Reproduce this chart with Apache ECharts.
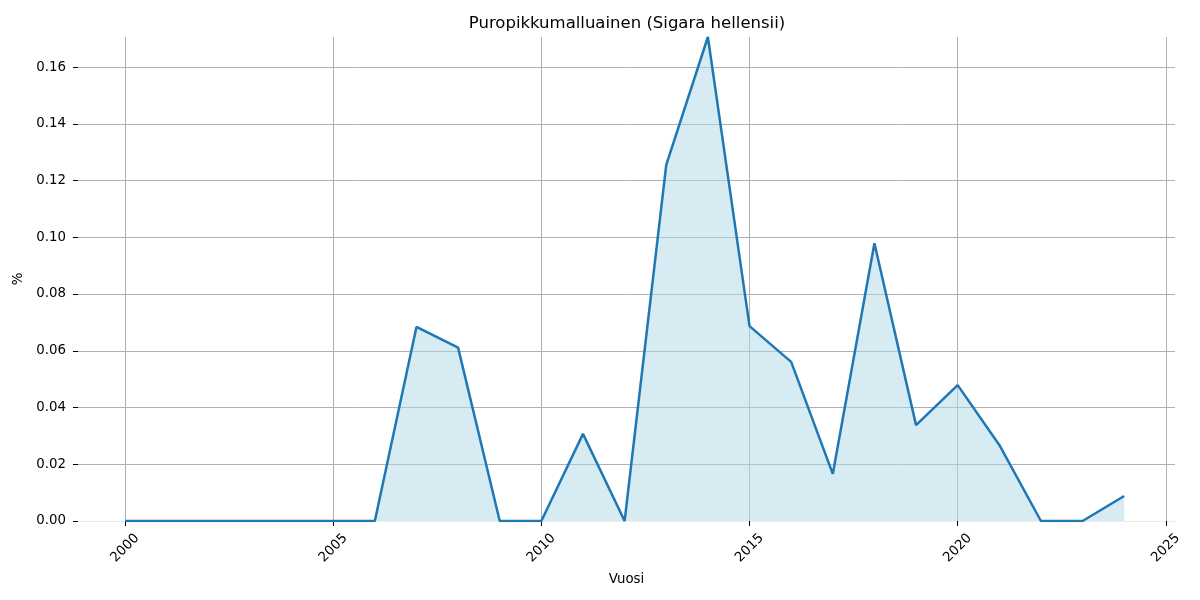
<!DOCTYPE html>
<html>
<head>
<meta charset="utf-8">
<script src="https://cdn.jsdelivr.net/npm/echarts@6/dist/echarts.min.js"></script>
<style>html,body{margin:0;padding:0;background:#fff}#c{width:1200px;height:600px}</style>
</head>
<body>
<div id="c"></div>
<script>
const years = [2000,2001,2002,2003,2004,2005,2006,2007,2008,2009,2010,2011,2012,2013,2014,2015,2016,2017,2018,2019,2020,2021,2022,2023,2024];
const values = [0,0,0,0,0,0,0,0.0684,0.0611,0,0,0.0307,0,0.1255,0.1706,0.0687,0.0561,0.0166,0.0979,0.0338,0.0479,0.0268,0,0,0.0088];
const xTicks = [2000,2005,2010,2015,2020,2025];
const yTicks = [0,0.02,0.04,0.06,0.08,0.10,0.12,0.14,0.16];
const titleText = 'Puropikkumalluainen (Sigara hellensii)';
const xName = 'Vuosi';
const yName = '%';

const font = '"DejaVu Sans", sans-serif';
const chart = echarts.init(document.getElementById('c'));
chart.setOption({
  animation: false,
  title: {text: titleText, left: 622, top: 10, textAlign: 'center',
    textStyle: {fontFamily: font, fontSize: 16.5, fontWeight: 'normal', color: '#000'}},
  grid: {left: 78, right: 25, top: 37, bottom: 79, containLabel: false},
  xAxis: {
    type: 'value', min: 1998.87, max: 2025.22,
    name: xName, nameLocation: 'middle', nameGap: 52,
    nameTextStyle: {fontFamily: font, fontSize: 13.33, color: '#000'},
    axisLine: {show: false},
    axisTick: {show: true, customValues: xTicks, length: 5, lineStyle: {color: '#000', width: 1}},
    axisLabel: {customValues: xTicks, rotate: 45, align: 'center', verticalAlign: 'middle',
      fontFamily: font, fontSize: 13.33, color: '#000', margin: 27,
      formatter: v => String(v)},
    splitLine: {show: true, lineStyle: {color: '#b0b0b0', width: 1}}
  },
  yAxis: {
    type: 'value', min: 0, max: 0.1706,
    name: yName, nameLocation: 'middle', nameGap: 48,
    nameTextStyle: {fontFamily: font, fontSize: 13.33, color: '#000'},
    axisLine: {show: false},
    axisTick: {show: true, customValues: yTicks, length: 5, lineStyle: {color: '#000', width: 1}},
    axisLabel: {customValues: yTicks, fontFamily: font, fontSize: 13.33, color: '#000', margin: 12,
      formatter: v => v.toFixed(2)},
    splitLine: {show: true, lineStyle: {color: ['#ececec','#b0b0b0','#b0b0b0','#b0b0b0','#b0b0b0','#b0b0b0','#b0b0b0','#b0b0b0','#b0b0b0'], width: 1}}
  },
  series: [{
    type: 'line',
    data: years.map((y, i) => [y, values[i]]),
    showSymbol: false,
    lineStyle: {color: '#1f77b4', width: 2.5},
    itemStyle: {color: '#1f77b4'},
    areaStyle: {color: 'rgba(173,216,230,0.5)', opacity: 1, origin: 'start'},
    z: 3
  }]
});
</script>
</body>
</html>
